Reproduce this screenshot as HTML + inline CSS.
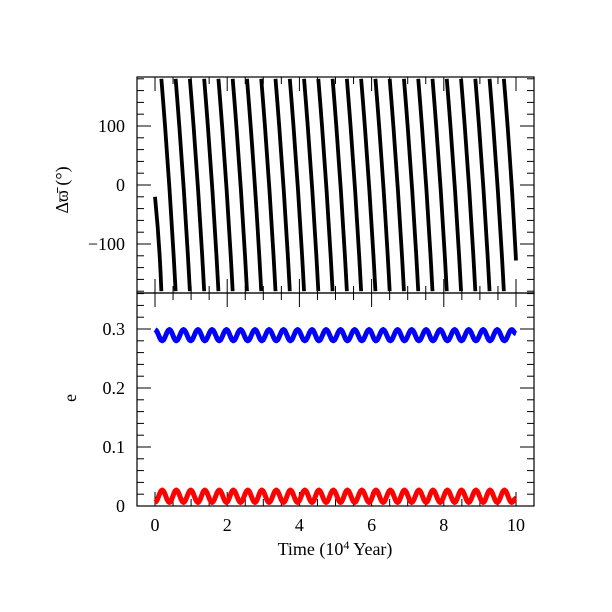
<!DOCTYPE html>
<html><head><meta charset="utf-8"><style>
html,body{margin:0;padding:0;background:#fff;}
svg{display:block;}
text{font-family:"Liberation Serif",serif;font-size:18px;fill:#000;}
</style></head><body>
<svg id="chart" width="612" height="612" xmlns="http://www.w3.org/2000/svg">
<defs>
<clipPath id="clipTop"><rect x="137" y="77" width="397" height="216"/></clipPath>
<clipPath id="clipBot"><rect x="137" y="293" width="397" height="213"/></clipPath>
</defs>
<g id="axes"></g>
<g id="series"></g>
<text x="335" y="555" text-anchor="middle">Time (10<tspan font-size="12" dy="-6">4</tspan><tspan dy="6"> Year)</tspan></text>
<text transform="translate(68,190) rotate(-90)" text-anchor="middle">Δϖ̄  (°)</text>
<text transform="translate(76,398) rotate(-90)" text-anchor="middle">e</text>
</svg>
<script>
// ---- data ----
const xTicks = [0, 2, 4, 6, 8, 10];
const topYTicks = [-100, 0, 100];
const botYTicks = [0, 0.1, 0.2, 0.3];
const botYTickLabels = ["0", "0.1", "0.2", "0.3"];
const dwStart = -20;
const dwEnd = -128;
const dwWrapTimes = [0.176, 0.571, 0.966, 1.362, 1.757, 2.152, 2.548, 2.943, 3.338, 3.734, 4.129, 4.524, 4.920, 5.315, 5.710, 6.106, 6.501, 6.896, 7.292, 7.687, 8.082, 8.478, 8.873, 9.268, 9.664];
const eTimes = [0, 0.20, 0.40, 0.59, 0.79, 0.99, 1.19, 1.38, 1.58, 1.78, 1.98, 2.17, 2.37, 2.57, 2.77, 2.96, 3.16, 3.36, 3.56, 3.75, 3.95, 4.15, 4.35, 4.54, 4.74, 4.94, 5.14, 5.33, 5.53, 5.73, 5.93, 6.12, 6.32, 6.52, 6.72, 6.91, 7.11, 7.31, 7.51, 7.70, 7.90, 8.10, 8.30, 8.49, 8.69, 8.89, 9.09, 9.28, 9.48, 9.68, 9.88, 10.0];
const eBlue = [0.299,0.280,0.299,0.280,0.299,0.280,0.299,0.280,0.299,0.280,0.299,0.280,0.299,0.280,0.299,0.280,0.299,0.280,0.299,0.280,0.299,0.280,0.299,0.280,0.299,0.280,0.299,0.280,0.299,0.280,0.299,0.280,0.299,0.280,0.299,0.280,0.299,0.280,0.299,0.280,0.299,0.280,0.299,0.280,0.299,0.280,0.299,0.280,0.299,0.280,0.299,0.292];
const eRed = [0.006,0.027,0.006,0.027,0.006,0.027,0.006,0.027,0.006,0.027,0.006,0.027,0.006,0.027,0.006,0.027,0.006,0.027,0.006,0.027,0.006,0.027,0.006,0.027,0.006,0.027,0.006,0.027,0.006,0.027,0.006,0.027,0.006,0.027,0.006,0.027,0.006,0.027,0.006,0.027,0.006,0.027,0.006,0.027,0.006,0.027,0.006,0.027,0.006,0.027,0.006,0.013];

// ---- scales ----
const L=137,R=534,T1=77,B1=293,T2=293,B2=506;
const xs = t => 155 + t*36.1;
const ys1 = v => 185 - v*0.59;
const ys2 = v => 506 - v*590;
const NS="http://www.w3.org/2000/svg";
const axes=document.getElementById('axes'), series=document.getElementById('series');
function mk(tag, attrs, parent){const e=document.createElementNS(NS,tag);for(const k in attrs)e.setAttribute(k,attrs[k]);parent.appendChild(e);return e;}
function line(x1,y1,x2,y2,p,w){return mk('line',{x1,y1,x2,y2,stroke:'#000','stroke-width':w||1},p);}

const f1=mk('rect',{x:L,y:T1,width:R-L,height:B1-T1,fill:'none',stroke:'#000','stroke-width':1.2},axes);


const f2=mk('rect',{x:L,y:T2,width:R-L,height:B2-T2,fill:'none',stroke:'#000','stroke-width':1.2},axes);



for(let i=-1;i<=21;i++){const t=i*0.5;const x=xs(t);if(x<L||x>R)continue;const len=(i%4===0)?14:7;
 [[T1,1],[B1,-1],[T2,1],[B2,-1]].forEach(([y,d])=>line(x,y,x,y+d*len,axes));}
xTicks.forEach(t=>{const tx=mk('text',{x:xs(t),y:531,'text-anchor':'middle'},axes);tx.textContent=String(t);
 
 });
for(let v=-180;v<=180;v+=20){const y=ys1(v);if(y<T1||y>B1)continue;const len=(v%100===0)?14:7;line(L,y,L+len,y,axes);line(R,y,R-len,y,axes);}
topYTicks.forEach(v=>{const tx=mk('text',{x:125,y:ys1(v)+6,'text-anchor':'end'},axes);tx.textContent=v<0?'\u2212'+(-v):String(v);
 
 });
for(let i=0;i<=18;i++){const v=i*0.02;const y=ys2(v);if(y<T2||y>B2)continue;const len=(i%5===0)?14:7;line(L,y,L+len,y,axes);line(R,y,R-len,y,axes);}
botYTicks.forEach((v,i)=>{const tx=mk('text',{x:125,y:ys2(v)+6,'text-anchor':'end'},axes);tx.textContent=botYTickLabels[i];
 
 });

// delta-varpi series (slightly curved strands)
const gTop=mk('g',{'clip-path':'url(#clipTop)'},series);


const starts=[0].concat(dwWrapTimes), ends=dwWrapTimes.concat([10]);
for(let i=0;i<starts.length;i++){
 const v0 = i===0?dwStart:180, v1 = i===starts.length-1?dwEnd:-180;
 const x0=xs(starts[i]),y0=ys1(v0),x1=xs(ends[i]),y1=ys1(v1);
 const cx=(x0+x1)/2+1.5, cy=(y0+y1)/2;
 const s=mk('path',{d:`M${x0},${y0} Q${cx},${cy} ${x1},${y1}`,fill:'none',stroke:'#000','stroke-width':3.8},gTop);
 
 
}

function curve(vals,color,name){
 let d='M'+xs(eTimes[0])+','+ys2(vals[0]);
 for(let i=1;i<eTimes.length;i++){
  const x0=xs(eTimes[i-1]),x1=xs(eTimes[i]),y0=ys2(vals[i-1]),y1=ys2(vals[i]);
  for(let k=1;k<=6;k++){const f=k/6;const c=(1-Math.cos(Math.PI*f))/2;d+=' L'+(x0+(x1-x0)*f).toFixed(2)+','+(y0+(y1-y0)*c).toFixed(2);}
 }
 const p=mk('path',{d,fill:'none',stroke:color,'stroke-width':5,'stroke-linejoin':'round'},series);
 p.setAttribute('clip-path','url(#clipBot)');
 
 
}
curve(eBlue,'#0000ff','e-blue-series');
curve(eRed,'#ff0000','e-red-series');
</script>
</body></html>
